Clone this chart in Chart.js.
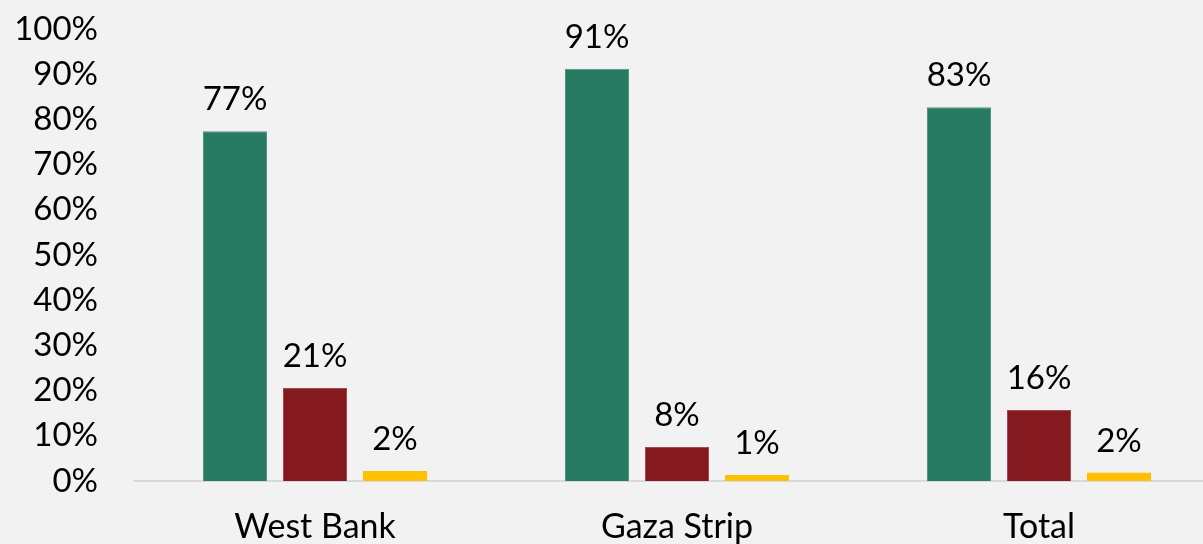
<!DOCTYPE html>
<html>
<head>
<meta charset="utf-8">
<script src="https://cdn.jsdelivr.net/npm/chart.js@4"></script>
<style>
  html, body { margin: 0; padding: 0; background: #f2f2f2; overflow: hidden; }
  #wrap { width: 1220px; height: 544px; position: relative; }
</style>
</head>
<body>
<div id="wrap"><canvas id="c"></canvas></div>
<script>
const categories = ["West Bank", "Gaza Strip", "Total"];
const seriesGreen = [77.4, 91.2, 82.7];
const seriesRed = [20.6, 7.5, 15.7];
const seriesYellow = [2.2, 1.3, 1.8];
const labelsGreen = ["77%", "91%", "83%"];
const labelsRed = ["21%", "8%", "16%"];
const labelsYellow = ["2%", "1%", "2%"];
const yTicks = [0, 10, 20, 30, 40, 50, 60, 70, 80, 90, 100];

const FONT = "Lato, 'Open Sans', sans-serif";
const FS = 33;
const FS_CAT = 34;

const dataLabelPlugin = {
  id: 'dataLabels',
  afterDatasetsDraw(chart) {
    const ctx = chart.ctx;
    ctx.save();
    ctx.font = FS + 'px ' + FONT;
    ctx.fillStyle = '#000';
    ctx.textAlign = 'center';
    ctx.textBaseline = 'alphabetic';
    chart.data.datasets.forEach((ds, i) => {
      const meta = chart.getDatasetMeta(i);
      meta.data.forEach((el, j) => {
        ctx.fillText(ds.valueLabels[j], el.x, el.y - 21);
      });
    });
    ctx.restore();
  }
};

new Chart(document.getElementById('c'), {
  type: 'bar',
  data: {
    labels: categories,
    datasets: [
      { data: seriesGreen, valueLabels: labelsGreen, backgroundColor: '#267a62', borderColor: '#4f9582', borderWidth: 1 },
      { data: seriesRed, valueLabels: labelsRed, backgroundColor: '#841a1f', borderColor: '#a04a4e', borderWidth: 1 },
      { data: seriesYellow, valueLabels: labelsYellow, backgroundColor: '#ffc000', borderColor: '#ffc000', borderWidth: 0 }
    ]
  },
  options: {
    responsive: true,
    maintainAspectRatio: false,
    animation: false,
    devicePixelRatio: 1,
    categoryPercentage: 0.663,
    barPercentage: 0.8,
    layout: { padding: { top: 29, right: 0, bottom: 0, left: 0 } },
    plugins: { legend: { display: false }, tooltip: { enabled: false } },
    scales: {
      x: {
        grid: { display: false, drawTicks: false },
        border: { display: true, color: '#d9d9d9', width: 2 },
        ticks: { color: '#000', font: { family: FONT, size: FS_CAT }, padding: 26, maxRotation: 0 },
        afterFit(scale) { scale.height = 63; scale.paddingLeft = 0; scale.paddingRight = 0; }
      },
      y: {
        min: 0, max: 100,
        grid: { display: false, drawTicks: false },
        border: { display: false },
        afterBuildTicks(scale) { scale.ticks = yTicks.map(v => ({ value: v })); },
        ticks: { color: '#000', font: { family: FONT, size: FS }, padding: 36, autoSkip: false, callback: v => v + '%' },
        afterFit(scale) { scale.width = 134; scale.paddingTop = 0; scale.paddingBottom = 0; }
      }
    }
  },
  plugins: [dataLabelPlugin]
});
</script>
</body>
</html>
